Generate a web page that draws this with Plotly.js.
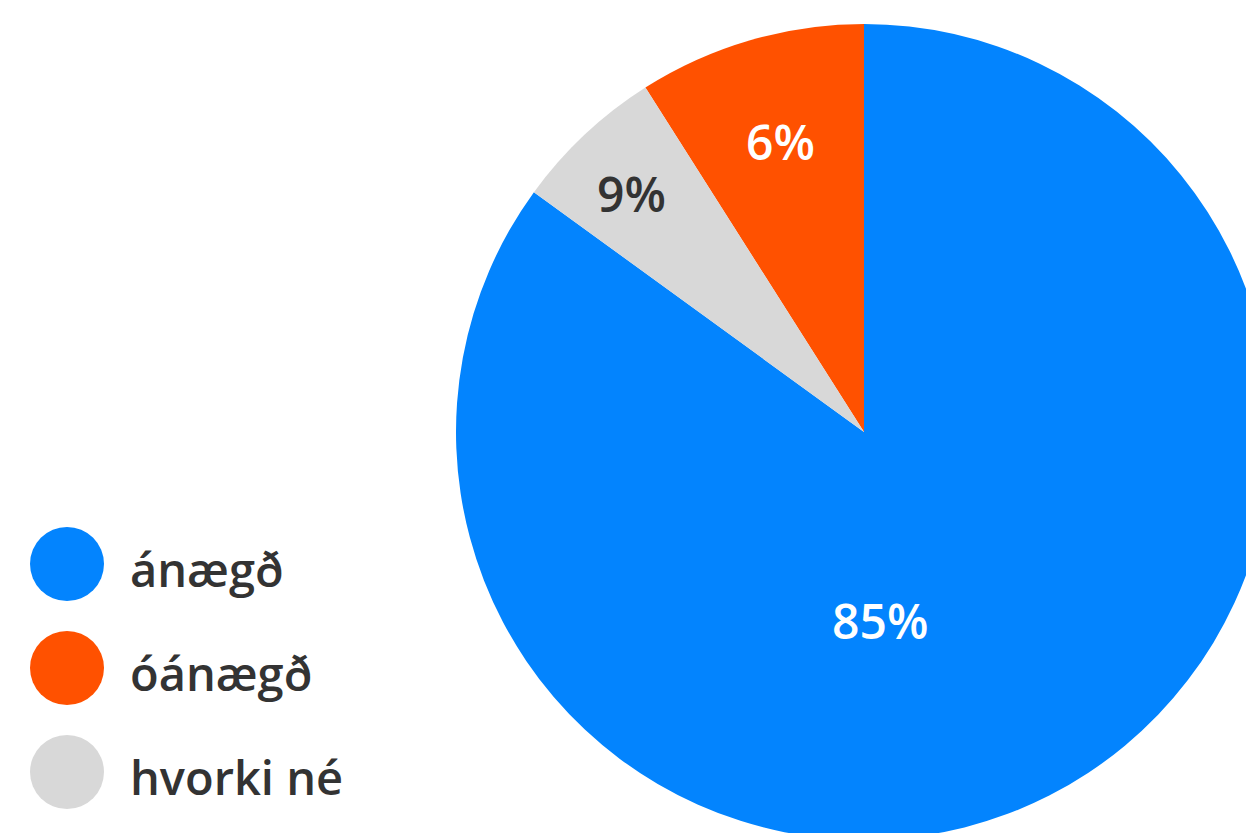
<!DOCTYPE html>
<html>
<head>
<meta charset="utf-8">
<script src="https://cdn.plot.ly/plotly-3.0.1.min.js"></script>
<style>
html,body{margin:0;padding:0;overflow:hidden;background:#fff;}
#chart{width:1300px;height:900px;}
</style>
</head>
<body>
<div id="chart"></div>
<script>
const labels = ["ánægð", "óánægð", "hvorki né"];
const values = [85, 9, 6];
const sliceText = ["85%", "6%", "9%"];
const colors = ["#0384FE", "#FF5100", "#D8D8D8"];
const textColors = ["#ffffff", "#ffffff", "#333333"];

const W = 1300, H = 900;
const FONT = "'Open Sans', Roboto, sans-serif";

const trace = {
  type: "pie",
  labels: labels,
  values: values,
  textinfo: "none",
  sort: false,
  direction: "counterclockwise",
  rotation: 0,
  marker: {colors: colors, line: {width: 0}},
  hoverinfo: "label+text",
  text: sliceText,
  showlegend: false,
  domain: {x: [456 / W, 1272 / W], y: [1 - 840 / H, 1 - 24 / H]}
};

const shapes = [];
const annotations = [];

// slice labels (placed where the reference puts them)
const labelPix = [[880, 620], [780, 141], [631, 194]];
sliceText.forEach((t, i) => {
  annotations.push({
    xref: "paper", yref: "paper",
    x: labelPix[i][0] / W, y: 1 - labelPix[i][1] / H,
    xanchor: "center", yanchor: "middle", showarrow: false,
    text: t, font: {family: FONT, size: 48, color: textColors[i], weight: 600}
  });
});

// custom legend (large circles) built from the same arrays
const legendX = 67, legendY0 = 564, legendStep = 104, r = 37;
labels.forEach((lab, i) => {
  const cy = legendY0 + i * legendStep;
  shapes.push({
    type: "circle", xref: "paper", yref: "paper",
    x0: (legendX - r) / W, x1: (legendX + r) / W,
    y0: 1 - (cy + r) / H, y1: 1 - (cy - r) / H,
    fillcolor: colors[i], line: {width: 0}
  });
  annotations.push({
    xref: "paper", yref: "paper", x: 128 / W, y: 1 - (cy + 5) / H,
    xanchor: "left", yanchor: "middle", showarrow: false,
    text: lab, font: {family: FONT, size: 47, color: "#333333", weight: 600}
  });
});

const layout = {
  width: W, height: H,
  margin: {l: 0, r: 0, t: 0, b: 0},
  paper_bgcolor: "#ffffff",
  showlegend: false,
  shapes: shapes,
  annotations: annotations
};

Plotly.newPlot("chart", [trace], layout, {displayModeBar: false, staticPlot: true});
</script>
</body>
</html>
